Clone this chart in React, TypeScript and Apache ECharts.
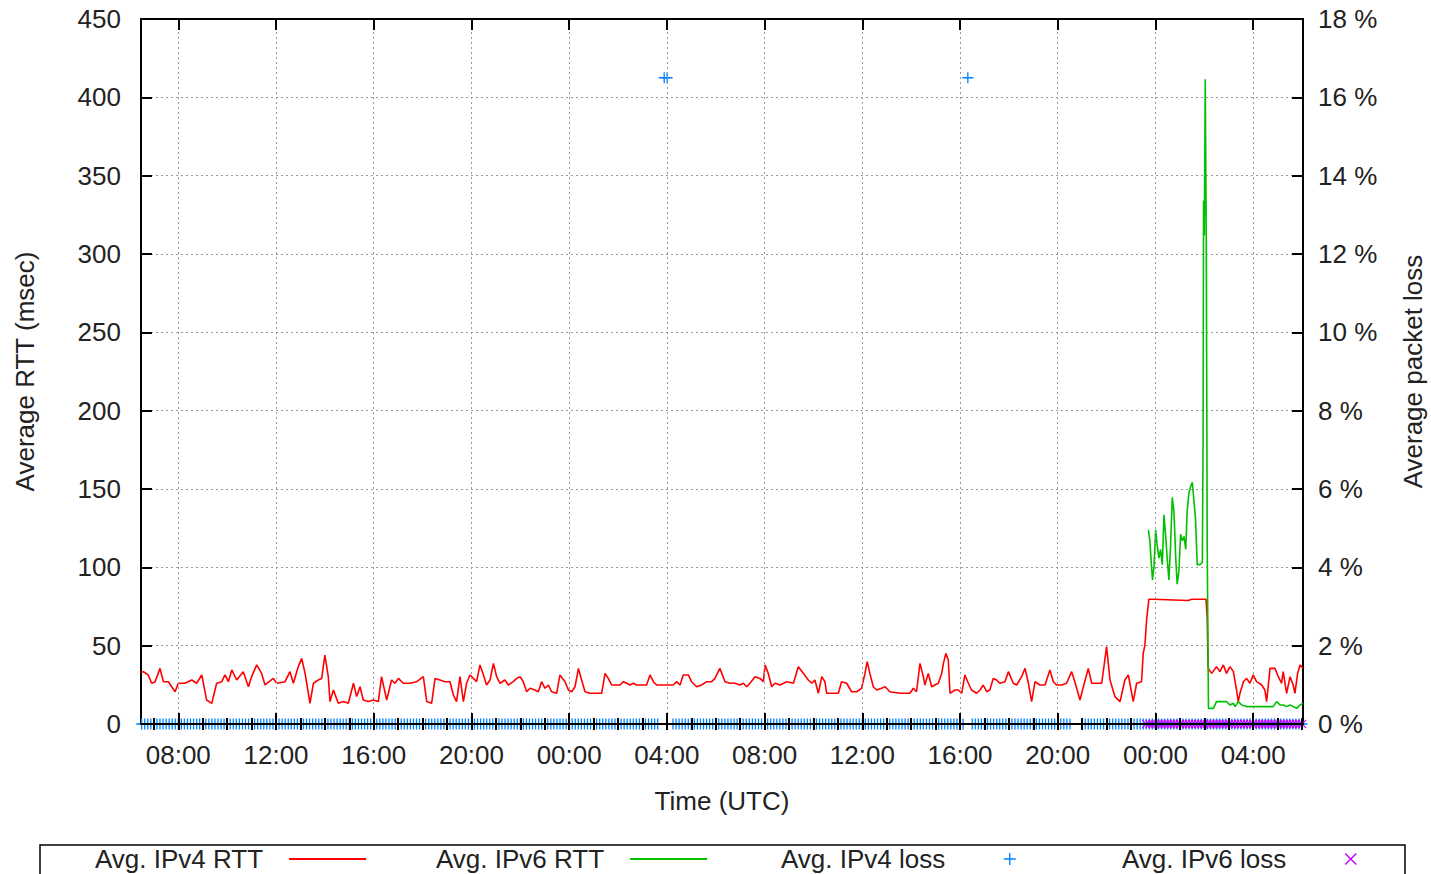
import React, { useEffect, useRef } from "react";
import * as echarts from "echarts";

// ---- axes / ticks (hours since 00:00 of day 1, UTC) ----
const xStartHour = 6.473;
const xEndHour = 54.04;
const majorTickHours = [8, 12, 16, 20, 24, 28, 32, 36, 40, 44, 48, 52];
const minorTickHours = [7, 8, 9, 10, 11, 12, 13, 14, 15, 16, 17, 18, 19, 20, 21, 22, 23, 24, 25, 26, 27, 28, 29, 30, 31, 32, 33, 34, 35, 36, 37, 38, 39, 40, 41, 42, 43, 44, 45, 46, 47, 48, 49, 50, 51, 52, 53, 54];
const rttMax = 450;
const rttStep = 50;
const lossMax = 18;
const lossStep = 2;

// ---- series (hour, msec) ----
const ipv4Rtt: [number, number][] = [
  [6.47, 33], [6.57, 33.4], [6.77, 31.3], [6.91, 26], [7.05, 27], [7.25, 35.5], [7.39, 27], [7.59, 27], [7.87, 20.6], [8.0, 26],
  [8.27, 26], [8.55, 28.1], [8.75, 26], [8.96, 31.3], [9.16, 15.3], [9.37, 13.2], [9.57, 26], [9.78, 27], [9.91, 31.3], [10.05, 27],
  [10.19, 34.5], [10.39, 28.1], [10.66, 33.4], [10.87, 23.8], [11.0, 30.2], [11.21, 37.7], [11.41, 32.3], [11.55, 24.9], [11.89, 29.1], [12.03, 26],
  [12.37, 27], [12.57, 33.4], [12.71, 26], [12.91, 36.6], [13.05, 41.9], [13.19, 32.3], [13.39, 13.2], [13.53, 26], [13.73, 28.1], [13.87, 29.1],
  [14.0, 44], [14.14, 30.2], [14.21, 14.3], [14.35, 21.7], [14.55, 13.2], [14.76, 14.3], [14.96, 13.2], [15.17, 26], [15.3, 17.5], [15.44, 23.8],
  [15.57, 15.3], [15.78, 14.3], [15.98, 15.3], [16.19, 14.3], [16.32, 30.2], [16.53, 15.3], [16.73, 28.1], [16.87, 26], [17.01, 29.1], [17.21, 26],
  [17.48, 26], [17.76, 27], [18.03, 30.2], [18.17, 14.3], [18.37, 13.2], [18.51, 29.1], [18.71, 28.1], [18.92, 27], [19.12, 27], [19.26, 18.5],
  [19.39, 14.3], [19.53, 30.2], [19.67, 14.3], [19.8, 26], [19.94, 31.3], [20.08, 29.1], [20.21, 27], [20.35, 37.7], [20.49, 31.3], [20.62, 24.9],
  [20.76, 28.1], [20.9, 38.7], [21.03, 30.2], [21.17, 26], [21.37, 28.1], [21.51, 24.9], [21.71, 27], [21.85, 29.1], [21.99, 30.2], [22.12, 27],
  [22.26, 20.6], [22.4, 22.8], [22.6, 21.7], [22.74, 20.6], [22.87, 27], [23.01, 22.8], [23.15, 24.9], [23.28, 20.6], [23.49, 19.6], [23.62, 31.3],
  [23.83, 27], [23.97, 21.7], [24.1, 20.6], [24.24, 23.8], [24.38, 35.5], [24.51, 28.1], [24.65, 20.6], [24.85, 19.6], [25.33, 19.6], [25.47, 32.3],
  [25.6, 29.1], [25.74, 24.9], [26.08, 24.9], [26.22, 27], [26.35, 26], [26.49, 24.9], [26.63, 26], [26.76, 24.9], [27.17, 24.9], [27.31, 31.3],
  [27.45, 27], [27.58, 24.9], [28.26, 24.9], [28.4, 27], [28.54, 24.9], [28.67, 31.3], [28.88, 31.3], [29.01, 27], [29.22, 23.8], [29.42, 24.9],
  [29.63, 27], [29.83, 27], [29.97, 29.1], [30.17, 35.5], [30.38, 27], [30.58, 26], [30.79, 26], [30.99, 24.9], [31.13, 26], [31.27, 23.8],
  [31.4, 26], [31.61, 30.2], [31.81, 29.1], [31.95, 27], [32.02, 37.7], [32.15, 32.3], [32.29, 23.8], [32.42, 26], [32.63, 24.9], [32.9, 27],
  [33.18, 26], [33.38, 36.6], [33.59, 32.3], [33.79, 28.1], [33.93, 26], [34.06, 28.1], [34.2, 19.6], [34.34, 30.2], [34.47, 27], [34.54, 19.6],
  [35.02, 19.6], [35.15, 27], [35.36, 26], [35.56, 20.6], [35.77, 20.6], [35.97, 22.8], [36.11, 32.3], [36.2, 39.8], [36.31, 32.3], [36.45, 23.8],
  [36.59, 21.7], [36.79, 22.8], [36.93, 23.8], [37.13, 20.6], [37.54, 19.6], [37.95, 19.6], [38.09, 22.8], [38.22, 20.6], [38.36, 38.7], [38.5, 30.2],
  [38.56, 24.9], [38.7, 32.3], [38.84, 23.8], [38.97, 24.9], [39.11, 26], [39.25, 32.3], [39.32, 38.7], [39.42, 45.1], [39.52, 40.9], [39.59, 19.6],
  [39.79, 21.7], [39.93, 21.7], [40.07, 19.6], [40.2, 31.3], [40.34, 26], [40.47, 21.7], [40.68, 19.6], [40.82, 21.7], [40.95, 24.9], [41.09, 20.6],
  [41.22, 21.7], [41.36, 29.1], [41.5, 28.1], [41.63, 26], [41.84, 27], [41.98, 33.4], [42.18, 26], [42.32, 24.9], [42.52, 30.2], [42.66, 35.5],
  [42.8, 26], [42.93, 14.3], [43.07, 27], [43.27, 24.9], [43.48, 24.9], [43.68, 34.5], [43.82, 27], [43.95, 24.9], [44.16, 24.9], [44.36, 26],
  [44.57, 33.4], [44.7, 27], [44.91, 15.3], [45.05, 23.8], [45.25, 35.5], [45.39, 26], [45.59, 26], [45.8, 26], [46.0, 49.4], [46.14, 28.1],
  [46.34, 17.5], [46.55, 14.3], [46.75, 28.1], [46.89, 31.3], [47.09, 14.3], [47.23, 26], [47.43, 27], [47.5, 45.1], [47.57, 50.5], [47.64, 67],
  [47.73, 79.6], [47.91, 79.6], [49.34, 78.8], [49.48, 79.6], [50.07, 79.6], [50.12, 67], [50.14, 49.1], [50.16, 35.5], [50.3, 32.3], [50.5, 36.6],
  [50.64, 33.4], [50.78, 37.7], [50.91, 32.3], [51.05, 36.6], [51.19, 33.4], [51.32, 21.7], [51.39, 14.3], [51.46, 19.6], [51.6, 27], [51.73, 29.1],
  [51.87, 26], [52.0, 31.3], [52.14, 27], [52.35, 24.9], [52.48, 21.7], [52.55, 14.3], [52.69, 35.5], [52.89, 35.5], [53.03, 30.2], [53.16, 26],
  [53.23, 33.4], [53.37, 19.6], [53.51, 30.2], [53.64, 24.9], [53.71, 19.6], [53.82, 32.3], [53.92, 37.7], [54.04, 35.5],
];

const ipv6Rtt: [number, number][] = [
  [47.71, 123.9], [47.77, 117], [47.84, 100.3], [47.88, 92], [47.94, 100.3], [48.01, 123.9], [48.07, 114.2], [48.14, 105.9], [48.21, 111.4], [48.28, 101.7],
  [48.35, 133.5], [48.42, 119.7], [48.48, 105.9], [48.55, 92], [48.62, 114.2], [48.69, 144.6], [48.76, 134.9], [48.83, 105.9], [48.89, 89.3], [48.96, 97.6],
  [49.03, 121.1], [49.1, 117], [49.17, 119.7], [49.24, 111.4], [49.3, 136.3], [49.37, 147.4], [49.44, 151.5], [49.51, 154.3], [49.58, 141.8], [49.64, 130.8],
  [49.71, 101.7], [49.82, 101.7], [49.92, 103.1], [49.95, 180.6], [49.97, 334], [50.0, 312], [50.04, 411.6], [50.08, 310], [50.12, 111.4], [50.17, 10],
  [50.37, 10], [50.5, 14.3], [50.91, 14.3], [51.05, 12.1], [51.19, 13.2], [51.26, 11.1], [51.39, 14.3], [51.53, 12.1], [51.73, 11.1], [52.82, 11.1],
  [52.96, 14.3], [53.1, 12.1], [53.23, 12.1], [53.37, 11.1], [53.51, 12.1], [53.64, 11.1], [53.78, 10], [53.92, 12.1], [54.04, 13.2],
];

// ---- packet loss (hour, %) ----
const lossSampleStepHours = 0.125;
const ipv4LossFirstHour = 6.5;
const ipv4LossLastHour = 54.0;
const ipv4LossPeaks: [number, number][] = [[27.89, 16.5], [28.01, 16.5], [40.32, 16.5]];
const ipv4LossNoZero: [number, number][] = [[27.7, 28.15], [40.2, 40.45], [44.55, 44.9]];
const ipv6LossFirstHour = 47.625;
const ipv6LossLastHour = 54.0;

const FONT = "'Liberation Sans', Arial, sans-serif";
const TEXT = "#222";
const PLUS = "path://M5.3,0H6.7V5.3H12V6.7H6.7V12H5.3V6.7H0V5.3H5.3Z";
const CROSS = "path://M0,1L1,0L6,5L11,0L12,1L7,6L12,11L11,12L6,7L1,12L0,11L5,6Z";

function buildZeroLoss(first: number, last: number, skip: [number, number][]) {
  const out: [number, number][] = [];
  const n = Math.round((last - first) / lossSampleStepHours);
  for (let i = 0; i <= n; i++) {
    const t = first + i * lossSampleStepHours;
    if (skip.some(([a, b]) => t >= a && t <= b)) continue;
    out.push([t, 0]);
  }
  return out;
}

const hourLabel = (v: number) => String(Math.round(v) % 24).padStart(2, "0") + ":00";

export default function App() {
  const ref = useRef<HTMLDivElement>(null);
  useEffect(() => {
    if (!ref.current) return;
    const chart = echarts.init(ref.current, undefined, { renderer: "svg" });
    const font = { fontFamily: FONT, fontSize: 26, color: TEXT };
    const tickStyle = { color: "#000", width: 2 };
    const gridLine = { color: "#999", type: [2, 3] as any, width: 1 };
    const ipv4Loss = [...buildZeroLoss(ipv4LossFirstHour, ipv4LossLastHour, ipv4LossNoZero), ...ipv4LossPeaks];
    const ipv6Loss = buildZeroLoss(ipv6LossFirstHour, ipv6LossLastHour, []);
    const xBase = { type: "value", min: xStartHour, max: xEndHour, z: 5, splitLine: { show: false } };
    const legendNames = ["Avg. IPv4 RTT", "Avg. IPv6 RTT", "Avg. IPv4 loss", "Avg. IPv6 loss"];
    const legendLefts = [95, 436, 781, 1122];

    chart.setOption({
      animation: false,
      backgroundColor: "#fff",
      grid: {
        left: 141, right: 128, top: 19, bottom: 150, show: true, borderColor: "#000", borderWidth: 2,
        backgroundColor: "transparent", containLabel: false, outerBoundsMode: "none",
      },
      xAxis: [
        {
          ...xBase, position: "bottom",
          axisLine: { show: true, onZero: false, lineStyle: { color: "#000", width: 2 } },
          axisTick: { show: true, inside: true, length: 11, customValues: majorTickHours, lineStyle: tickStyle },
          axisLabel: { show: true, customValues: majorTickHours, formatter: hourLabel, margin: 18, ...font },
          name: "Time (UTC)", nameLocation: "middle", nameGap: 64, nameTextStyle: font,
        },
        {
          ...xBase, position: "bottom",
          axisLine: { show: false },
          axisTick: { show: true, inside: true, length: 6, customValues: minorTickHours, lineStyle: tickStyle },
          axisLabel: { show: false },
        },
        {
          ...xBase, position: "top",
          axisLine: { show: true, onZero: false, lineStyle: { color: "#000", width: 2 } },
          axisTick: { show: true, inside: true, length: 11, customValues: majorTickHours, lineStyle: tickStyle },
          axisLabel: { show: false },
        },
        {
          ...xBase, position: "top",
          axisLine: { show: false },
          axisTick: { show: true, inside: true, length: 6, customValues: minorTickHours, lineStyle: tickStyle },
          axisLabel: { show: false },
        },
      ],
      yAxis: [
        {
          type: "value", min: 0, max: rttMax, interval: rttStep, position: "left",
          axisLine: { show: true, lineStyle: { color: "#000", width: 2 } },
          axisTick: { show: true, inside: true, length: 11, lineStyle: tickStyle },
          axisLabel: { margin: 20, ...font },
          splitLine: { show: true, lineStyle: gridLine },
          name: "Average RTT (msec)", nameLocation: "middle", nameGap: 103, nameRotate: 90, nameTextStyle: font,
        },
        {
          type: "value", min: 0, max: lossMax, interval: lossStep, position: "right",
          axisLine: { show: true, lineStyle: { color: "#000", width: 2 } },
          axisTick: { show: true, inside: true, length: 11, lineStyle: tickStyle },
          axisLabel: { margin: 15, formatter: "{value} %", ...font },
          splitLine: { show: false },
          name: "Average packet loss", nameLocation: "middle", nameGap: 97, nameRotate: 90, nameTextStyle: font,
        },
      ],
      legend: legendNames.map((name, i) => ({
        data: [name], left: legendLefts[i], top: 846, orient: "horizontal", align: "right", padding: 0,
        itemWidth: 77, itemHeight: 12, selectedMode: false,
        ...(i < 2 ? { itemStyle: { opacity: 0 } } : {}),
        textStyle: { ...font, padding: [0, 21, 0, 0] },
      })),
      graphic: [
        { type: "rect", shape: { x: 40, y: 845, width: 1365, height: 60 }, style: { fill: "none", stroke: "#000", lineWidth: 1.5 }, silent: true },
      ],
      series: [
        {
          name: "grid", type: "line", data: [], z: 1, silent: true,
          markLine: { silent: true, symbol: ["none", "none"], label: { show: false }, lineStyle: gridLine, data: majorTickHours.map((h) => ({ xAxis: h })) },
        },
        {
          name: "Avg. IPv4 RTT", type: "line", data: ipv4Rtt, symbol: "none", showSymbol: false, z: 3,
          lineStyle: { color: "#ff0000", width: 1.6 }, itemStyle: { color: "#ff0000" },
        },
        {
          name: "Avg. IPv6 RTT", type: "line", data: ipv6Rtt, symbol: "none", showSymbol: false, z: 3,
          lineStyle: { color: "#00c000", width: 1.6 }, itemStyle: { color: "#00c000" },
        },
        {
          name: "Avg. IPv4 loss", type: "scatter", yAxisIndex: 1, data: ipv4Loss, symbol: PLUS, symbolSize: 11, z: 2,
          itemStyle: { color: "#0080ff", opacity: 1 },
        },
        {
          name: "Avg. IPv6 loss", type: "scatter", yAxisIndex: 1, data: ipv6Loss, symbol: CROSS, symbolSize: 9, z: 2,
          itemStyle: { color: "#c000ff", opacity: 1 },
        },
      ],
    });
    return () => chart.dispose();
  }, []);
  return <div ref={ref} style={{ position: "fixed", left: 0, top: 0, width: 1431, height: 874 }} />;
}
